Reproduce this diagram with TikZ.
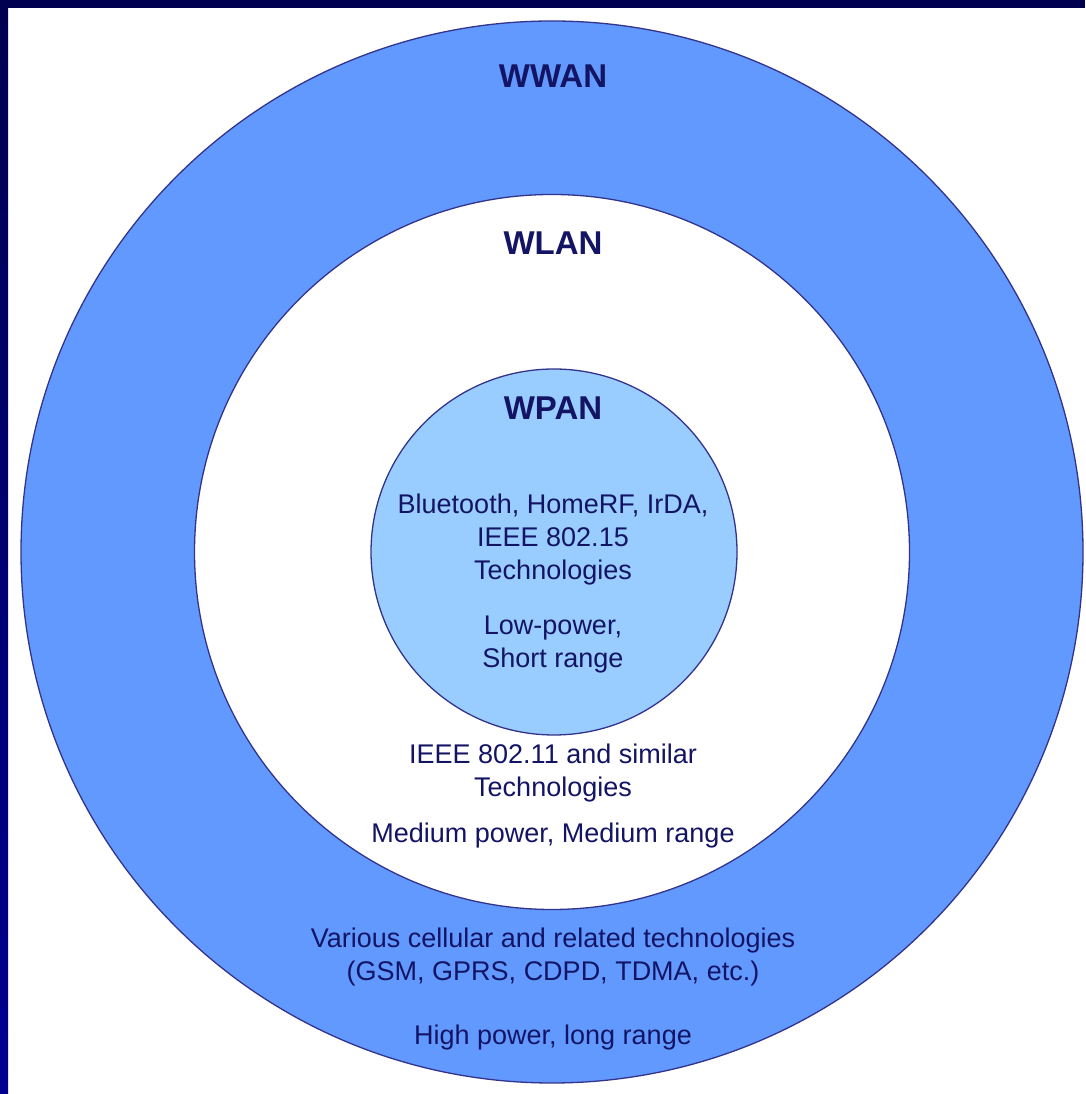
\documentclass[tikz,border=0pt]{standalone}
\usepackage{fontspec}
\setmainfont{Liberation Sans}
\definecolor{wan_blue}{RGB}{97, 153, 255}
\definecolor{pan_blue}{RGB}{153, 204, 255}
\definecolor{ring_edge}{RGB}{51, 51, 140}
\definecolor{label_navy}{RGB}{20, 20, 100}
\definecolor{frame_navy}{RGB}{0, 0, 80}
\definecolor{frame_blue}{RGB}{0, 0, 145}
\usepackage{tikz}

\begin{document}
\begin{tikzpicture}[x=1pt, y=1pt,
    ring/.style={circle, draw=ring_edge, line width=1.3pt, inner sep=0pt},
    ringtitle/.style={font=\fontsize{33}{38}\selectfont\bfseries, text=label_navy},
    ringtext/.style={font=\fontsize{27}{33}\selectfont, text=label_navy, align=center}]
  \useasboundingbox (0,0) rectangle (1085,1094);
  \fill[white] (0,0) rectangle (1085,1094);
  % frame
  \shade[top color=frame_navy, bottom color=frame_blue] (0,0) rectangle (8,1094);
  \fill[frame_navy] (0,1086) rectangle (1085,1094);
  % rings
  \node[ring, fill=wan_blue, minimum size=1062pt] (wwan) at (552,542) {};
  \node[ring, fill=white, minimum size=715pt] (wlan) at (552,542) {};
  \node[ring, fill=pan_blue, minimum size=366pt] (wpan) at (554,542) {};
  % titles
  \node[ringtitle] (wwantitle) at (553,1018) {WWAN};
  \node[ringtitle] (wlantitle) at (553,851) {WLAN};
  \node[ringtitle] (wpantitle) at (553,686) {WPAN};
  % wpan text
  \node[ringtext] (pantech) at (553,554) {Bluetooth, HomeRF, IrDA,\\IEEE 802.15\\Technologies};
  \node[ringtext] (panrange) at (553,449) {Low-power,\\Short range};
  % wlan text
  \node[ringtext] (lantech) at (553,321) {IEEE 802.11 and similar\\Technologies};
  \node[ringtext] (lanrange) at (553,258) {Medium power, Medium range};
  % wwan text
  \node[ringtext] (wantech) at (553,137) {Various cellular and related technologies\\(GSM, GPRS, CDPD, TDMA, etc.)};
  \node[ringtext] (wanrange) at (553,56) {High power, long range};
\end{tikzpicture}
\end{document}
